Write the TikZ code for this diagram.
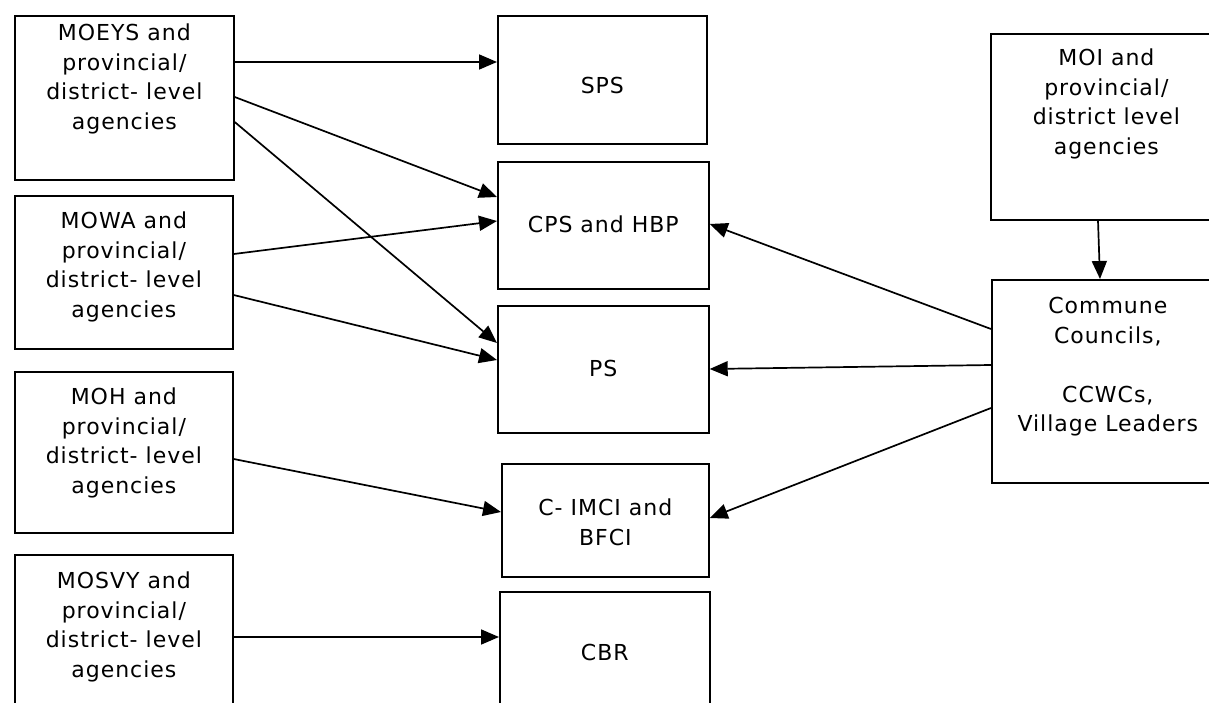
\documentclass[tikz,border=0pt]{standalone}
\usepackage{fontspec}
\setmainfont[LetterSpace=4.5]{DejaVu Sans}
\usetikzlibrary{arrows.meta}

% text box: width, height, first baseline, text
\newcommand{\boxtext}[4]{\parbox[c][#2][t]{#1}{\centering\rule{0pt}{#3}#4}}

\begin{document}
\begin{tikzpicture}[
  x=1pt, y=-1pt,
  >={Triangle[length=18pt, width=15pt]},
  every node/.style={font=\fontsize{22pt}{29.5pt}\selectfont},
  box/.style={draw, line width=1.7pt, inner sep=0pt, anchor=north west},
  link/.style={line width=1.7pt, ->},
]

% Frame
\useasboundingbox (0,0) rectangle (1209,703);
\clip (0,0) rectangle (1209,703);
\fill[white] (0,0) rectangle (1209,703);

% Ministries (left)
\node[box] (moeys) at (14,15)  {\boxtext{219pt}{164pt}{25pt}{MOEYS and\\provincial/\\district- level\\agencies}};
\node[box] (mowa)  at (14,195) {\boxtext{218pt}{153pt}{33pt}{MOWA and\\provincial/\\district- level\\agencies}};
\node[box] (moh)   at (14,371) {\boxtext{218pt}{161pt}{33pt}{MOH and\\provincial/\\district- level\\agencies}};
\node[box] (mosvy) at (14,554) {\boxtext{218pt}{170pt}{34pt}{MOSVY and\\provincial/\\district- level\\agencies}};

% Services (middle)
\node[box] (sps)  at (497,15)  {\boxtext{209pt}{128pt}{78pt}{SPS}};
\node[box] (cps)  at (497,161) {\boxtext{211pt}{127pt}{71pt}{CPS and HBP}};
\node[box] (ps)   at (497,305) {\boxtext{211pt}{127pt}{71pt}{PS}};
\node[box] (imci) at (501,463) {\boxtext{207pt}{113pt}{52pt}{C- IMCI and\\BFCI}};
\node[box] (cbr)  at (499,591) {\boxtext{210pt}{130pt}{69pt}{CBR}};

% Local level (right)
\node[box] (moi)     at (990,33)  {\boxtext{231pt}{186pt}{32pt}{MOI and\\provincial/\\district level\\agencies}};
\node[box] (commune) at (991,279) {\boxtext{232pt}{203pt}{34pt}{Commune\\Councils,\\[29.5pt]CCWCs,\\Village Leaders}};

% Links from ministries
\draw[link] ([yshift=-47pt]moeys.north east) -- ([yshift=-47pt]sps.north west);
\draw[link] ([yshift=-82pt]moeys.north east) -- ([yshift=-36pt]cps.north west);
\draw[link] ([yshift=-107pt]moeys.north east) -- ([yshift=-38pt]ps.north west);
\draw[link] ([yshift=-59pt]mowa.north east) -- ([yshift=-60pt]cps.north west);
\draw[link] ([yshift=-100pt]mowa.north east) -- ([yshift=-55pt]ps.north west);
\draw[link] ([yshift=-88pt]moh.north east) -- ([yshift=-49pt]imci.north west);
\draw[link] ([yshift=-83pt]mosvy.north east) -- ([yshift=-46pt]cbr.north west);

% Links from local level
\draw[link] ([xshift=108pt]moi.south west) -- ([xshift=109pt]commune.north west);
\draw[link] ([yshift=-50pt]commune.north west) -- ([yshift=-63pt]cps.north east);
\draw[link] ([yshift=-86pt]commune.north west) -- ([yshift=-64pt]ps.north east);
\draw[link] ([yshift=-129pt]commune.north west) -- ([yshift=-55pt]imci.north east);

\end{tikzpicture}
\end{document}
